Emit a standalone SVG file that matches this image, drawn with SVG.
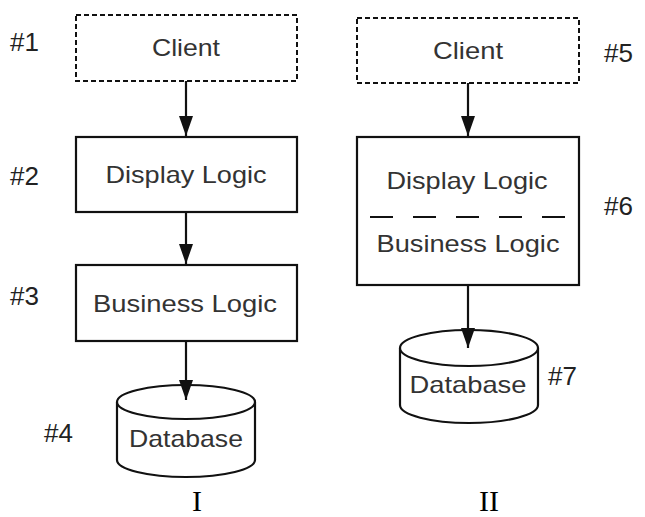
<svg xmlns="http://www.w3.org/2000/svg" width="645" height="517" viewBox="0 0 645 517">
<defs>
<marker id="arr" markerUnits="userSpaceOnUse" markerWidth="20" markerHeight="14" refX="20" refY="7" viewBox="0 0 20 14" orient="auto">
<path d="M0,0 L20,7 L0,14 Z" fill="#111"/>
</marker>
<style>
.box{fill:#fff;stroke:#111;stroke-width:2.2}
.dash{fill:#fff;stroke:#111;stroke-width:2;stroke-dasharray:5 3}
.db{fill:#fff;stroke:#111;stroke-width:2.2}
.lbl{font-family:"Liberation Sans",Arial,sans-serif;font-size:24px;fill:#333;text-anchor:middle}
.num{font-family:"Liberation Sans",Arial,sans-serif;font-size:26px;fill:#222}
.rom{font-family:"Liberation Serif","Times New Roman",serif;font-size:30px;fill:#000;text-anchor:middle}
.con{stroke:#111;stroke-width:2.2;fill:none;marker-end:url(#arr)}
</style>
</defs>
<rect width="645" height="517" fill="#fff"/>

<g id="n1">
<rect class="dash" x="76" y="15" width="221" height="66"/>
<text class="lbl" x="186" y="56" textLength="68" lengthAdjust="spacingAndGlyphs">Client</text>
<text class="num" x="10" y="51">#1</text>
</g>
<g id="n2">
<rect class="box" x="76" y="137" width="221" height="75"/>
<text class="lbl" x="186" y="183" textLength="161" lengthAdjust="spacingAndGlyphs">Display Logic</text>
<text class="num" x="10" y="185">#2</text>
</g>
<g id="n3">
<rect class="box" x="76" y="265" width="221" height="76"/>
<text class="lbl" x="185" y="312" textLength="184" lengthAdjust="spacingAndGlyphs">Business Logic</text>
<text class="num" x="10" y="305">#3</text>
</g>
<g id="n4">
<path class="db" d="M117,402 L117,460 A69,17 0 0 0 255,460 L255,402"/>
<ellipse class="db" cx="186" cy="402" rx="69" ry="17"/>
<text class="lbl" x="186" y="447" textLength="114" lengthAdjust="spacingAndGlyphs">Database</text>
<text class="num" x="44" y="442">#4</text>
</g>

<g id="n5">
<rect class="dash" x="357" y="18" width="222" height="65"/>
<text class="lbl" x="468" y="59" textLength="70" lengthAdjust="spacingAndGlyphs">Client</text>
<text class="num" x="604" y="62">#5</text>
</g>
<g id="n6">
<rect class="box" x="357" y="137" width="222" height="148"/>
<text class="lbl" x="467" y="189" textLength="161" lengthAdjust="spacingAndGlyphs">Display Logic</text>
<line x1="370" y1="217" x2="570" y2="217" stroke="#111" stroke-width="2" stroke-dasharray="23 20"/>
<text class="lbl" x="468" y="252" textLength="183" lengthAdjust="spacingAndGlyphs">Business Logic</text>
<text class="num" x="604" y="215">#6</text>
</g>
<g id="n7">
<path class="db" d="M400,348 L400,405 A69,18 0 0 0 538,405 L538,348"/>
<ellipse class="db" cx="469" cy="348" rx="69" ry="18"/>
<text class="lbl" x="468" y="393" textLength="117" lengthAdjust="spacingAndGlyphs">Database</text>
<text class="num" x="548" y="385">#7</text>
</g>

<g id="connectors">
<line class="con" x1="186" y1="81" x2="186" y2="136"/>
<line class="con" x1="186" y1="212" x2="186" y2="264"/>
<line class="con" x1="186" y1="341" x2="186" y2="400"/>
<line class="con" x1="468" y1="83" x2="468" y2="136"/>
<line class="con" x1="468" y1="285" x2="468" y2="348"/>
</g>

<text class="rom" x="197" y="511">I</text>
<text class="rom" x="489" y="511">II</text>
</svg>
